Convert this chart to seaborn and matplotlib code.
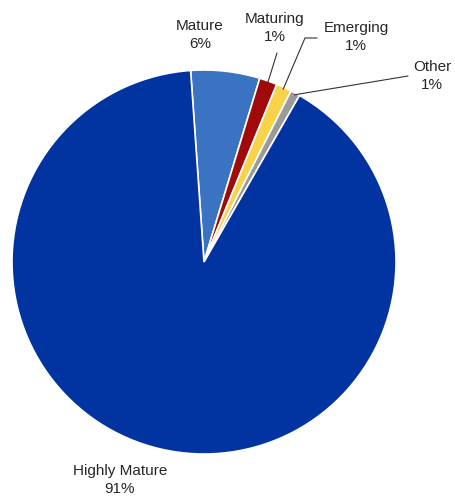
import numpy as np
import matplotlib
matplotlib.use('Agg')
import matplotlib.pyplot as plt
import seaborn as sns

sns.set_theme(style='white')
plt.rcParams['font.family'] = ['Liberation Sans', 'DejaVu Sans']

# data, clockwise from the top
categories = ['Mature', 'Maturing', 'Emerging', 'Other', 'Highly Mature']
shares = [5.8, 1.5, 1.3, 0.8, 90.6]
pct_labels = ['6%', '1%', '1%', '1%', '91%']
colors = ['#3A73C2', '#A00A0A', '#F7D34A', '#9A9A9A', '#0134A1']

W, H = 456, 496
CX, CY, R = 204, 262, 192


def px(x, y):
    """pixel position -> data coords of the pie axes"""
    return (x - CX) / R, (CY - y) / R


fig = plt.figure(figsize=(W / 100, H / 100), dpi=100)
ax = fig.add_axes([0, 0, 1, 1])

wedges, _ = ax.pie(shares, colors=colors, startangle=94, counterclock=False,
                   radius=1.0, center=(0, 0),
                   wedgeprops=dict(edgecolor='white', linewidth=1.2))

# pie() resets the limits, so set them afterwards
ax.set_xlim(-CX / R, (W - CX) / R)
ax.set_ylim(-(H - CY) / R, CY / R)
ax.set_aspect('equal')
ax.axis('off')

fs = 11
tc = '#262626'
ls = 1.45

# Mature label - no leader
x, y = px(200, 35)
ax.text(x, y, f'{categories[0]}\n{pct_labels[0]}', ha='center', va='center', fontsize=fs, color=tc, linespacing=ls)

# Highly Mature label
x, y = px(120, 480)
ax.text(x, y, f'{categories[4]}\n{pct_labels[4]}', ha='center', va='center', fontsize=fs, color=tc, linespacing=ls)

# small slices with leader lines
leader_paths = {
    1: [(277, 53)],
    2: [(305, 38), (317, 38)],
    3: [(408, 76)],
}
label_pos = {1: (275, 28), 2: (356, 37), 3: (432, 76)}
for i, path in leader_paths.items():
    w = wedges[i]
    mid = np.deg2rad((w.theta1 + w.theta2) / 2)
    pts = [(np.cos(mid) * 0.99, np.sin(mid) * 0.99)] + [px(*p) for p in path]
    xs, ys = zip(*pts)
    ax.plot(xs, ys, color='#333333', lw=0.8)
    x, y = px(*label_pos[i])
    ax.text(x, y, f'{categories[i]}\n{pct_labels[i]}', ha='center', va='center', fontsize=fs, color=tc, linespacing=ls)

fig.savefig('out.png', dpi=100, facecolor='white')
